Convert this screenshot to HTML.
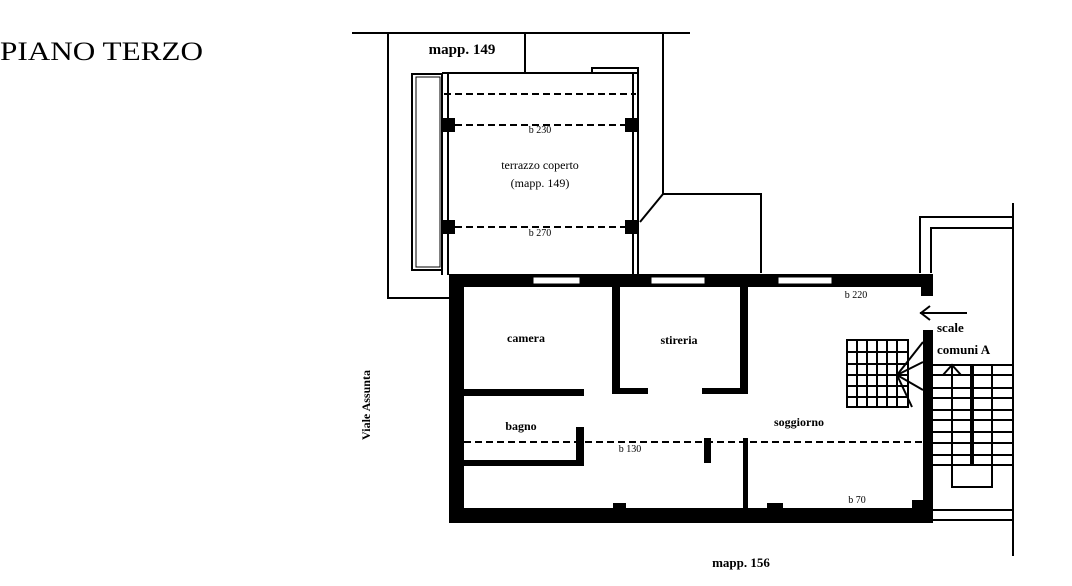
<!DOCTYPE html>
<html><head><meta charset="utf-8"><style>
html,body{margin:0;padding:0;background:#fff;}
svg{display:block;}
text{font-family:"Liberation Serif",serif;fill:#000;}
</style></head><body>
<svg width="1072" height="586" viewBox="0 0 1072 586" xmlns="http://www.w3.org/2000/svg">
<text x="0" y="60" font-size="26" textLength="203" lengthAdjust="spacingAndGlyphs">PIANO TERZO</text>
<g fill="none" stroke="#000" stroke-width="2">
<line x1="352" y1="33" x2="690" y2="33"/>
<polyline points="388,33 388,298 450,298"/>
<line x1="525" y1="33" x2="525" y2="73"/>
<polyline points="663,33 663,194 640,222"/>
<polyline points="663,194 761,194 761,273"/>
<rect x="412" y="74" width="30" height="196"/>
<rect x="416" y="77" width="24" height="190" stroke-width="1"/>
<line x1="442" y1="73" x2="638" y2="73"/>
<line x1="442" y1="73" x2="442" y2="275"/>
<line x1="448" y1="73" x2="448" y2="275"/>
<line x1="633" y1="73" x2="633" y2="275"/>
<line x1="638" y1="70" x2="638" y2="275"/>
<polyline points="592,73 592,68 638,68 638,73"/>
</g>
<g stroke="#000" stroke-width="2" stroke-dasharray="7,4">
<line x1="444" y1="94" x2="636" y2="94"/>
<line x1="455" y1="125" x2="625" y2="125"/>
<line x1="455" y1="227" x2="625" y2="227"/>
<line x1="464" y1="442" x2="923" y2="442"/>
</g>
<g fill="#000">
<rect x="442" y="118" width="13" height="14"/><rect x="625" y="118" width="13" height="14"/>
<rect x="442" y="220" width="13" height="14"/><rect x="625" y="220" width="13" height="14"/>
<rect x="449" y="274" width="484" height="13"/>
<rect x="921" y="274" width="12" height="22"/>
<rect x="449" y="274" width="15" height="249"/>
<rect x="449" y="508" width="484" height="15"/>
<rect x="923" y="330" width="10" height="193"/>
<rect x="612" y="287" width="8" height="107"/>
<rect x="740" y="287" width="8" height="107"/>
<rect x="612" y="388" width="36" height="6"/>
<rect x="702" y="388" width="46" height="6"/>
<rect x="464" y="389" width="120" height="7"/>
<rect x="576" y="427" width="8" height="39"/>
<rect x="464" y="460" width="120" height="6"/>
<rect x="704" y="438" width="7" height="25"/>
<rect x="743" y="438" width="5" height="70"/>
<rect x="613" y="503" width="13" height="6"/>
<rect x="767" y="503" width="16" height="6"/>
<rect x="912" y="500" width="12" height="9"/>
</g>
<g fill="#fff" stroke="#000" stroke-width="1">
<rect x="533" y="277" width="47" height="7"/>
<rect x="651" y="277" width="54" height="7"/>
<rect x="778" y="277" width="54" height="7"/>
</g>
<g fill="none" stroke="#000" stroke-width="2">
<polyline points="920,273 920,217 1012,217"/>
<polyline points="931,273 931,228 1012,228"/>
<line x1="1013" y1="203" x2="1013" y2="556"/>
<line x1="933" y1="510" x2="1012" y2="510"/>
<line x1="933" y1="520" x2="1012" y2="520"/>
<line x1="933" y1="365" x2="1012" y2="365"/>
<line x1="933" y1="375" x2="1012" y2="375"/>
<line x1="933" y1="388" x2="1012" y2="388"/>
<line x1="933" y1="398" x2="1012" y2="398"/>
<line x1="933" y1="410" x2="1012" y2="410"/>
<line x1="933" y1="420" x2="1012" y2="420"/>
<line x1="933" y1="432" x2="1012" y2="432"/>
<line x1="933" y1="443" x2="1012" y2="443"/>
<line x1="933" y1="455" x2="1012" y2="455"/>
<line x1="933" y1="465" x2="1012" y2="465"/>
<polyline points="952,365 952,487 992,487 992,365"/>
<line x1="972" y1="365" x2="972" y2="465" stroke-width="4"/>
<polyline points="943,375 952,365 961,375"/>
<line x1="920" y1="313" x2="967" y2="313"/>
<polyline points="930,306 921,313 930,320"/>
<rect x="847" y="340" width="61" height="67"/>
<line x1="847" y1="352" x2="908" y2="352"/>
<line x1="847" y1="364" x2="908" y2="364"/>
<line x1="847" y1="375" x2="908" y2="375"/>
<line x1="847" y1="386" x2="908" y2="386"/>
<line x1="847" y1="397" x2="908" y2="397"/>
<line x1="857" y1="340" x2="857" y2="407"/>
<line x1="867" y1="340" x2="867" y2="407"/>
<line x1="877" y1="340" x2="877" y2="407"/>
<line x1="887" y1="340" x2="887" y2="407"/>
<line x1="897" y1="340" x2="897" y2="407"/>
<line x1="897" y1="375" x2="923" y2="342"/>
<line x1="897" y1="375" x2="923" y2="362"/>
<line x1="897" y1="375" x2="923" y2="390"/>
<line x1="897" y1="375" x2="912" y2="407"/>
</g>
<g font-size="12" text-anchor="middle">
<text x="462" y="54" font-size="15" font-weight="bold">mapp. 149</text>
<text x="540" y="169">terrazzo coperto</text>
<text x="540" y="187">(mapp. 149)</text>
<text x="540" y="133" font-size="10">b 230</text>
<text x="540" y="236" font-size="10">b 270</text>
<text x="526" y="342" font-weight="bold">camera</text>
<text x="679" y="344" font-weight="bold">stireria</text>
<text x="521" y="430" font-weight="bold">bagno</text>
<text x="799" y="426" font-weight="bold">soggiorno</text>
<text x="630" y="452" font-size="10">b 130</text>
<text x="856" y="298" font-size="10">b 220</text>
<text x="857" y="503" font-size="10">b 70</text>
<text x="741" y="567" font-size="13" font-weight="bold">mapp. 156</text>
</g>
<text x="937" y="332" font-size="13" font-weight="bold">scale</text>
<text x="937" y="354" font-size="13" font-weight="bold">comuni A</text>
<text transform="translate(370,405) rotate(-90)" font-size="12" font-weight="bold" text-anchor="middle">Viale Assunta</text>
</svg>
</body></html>
